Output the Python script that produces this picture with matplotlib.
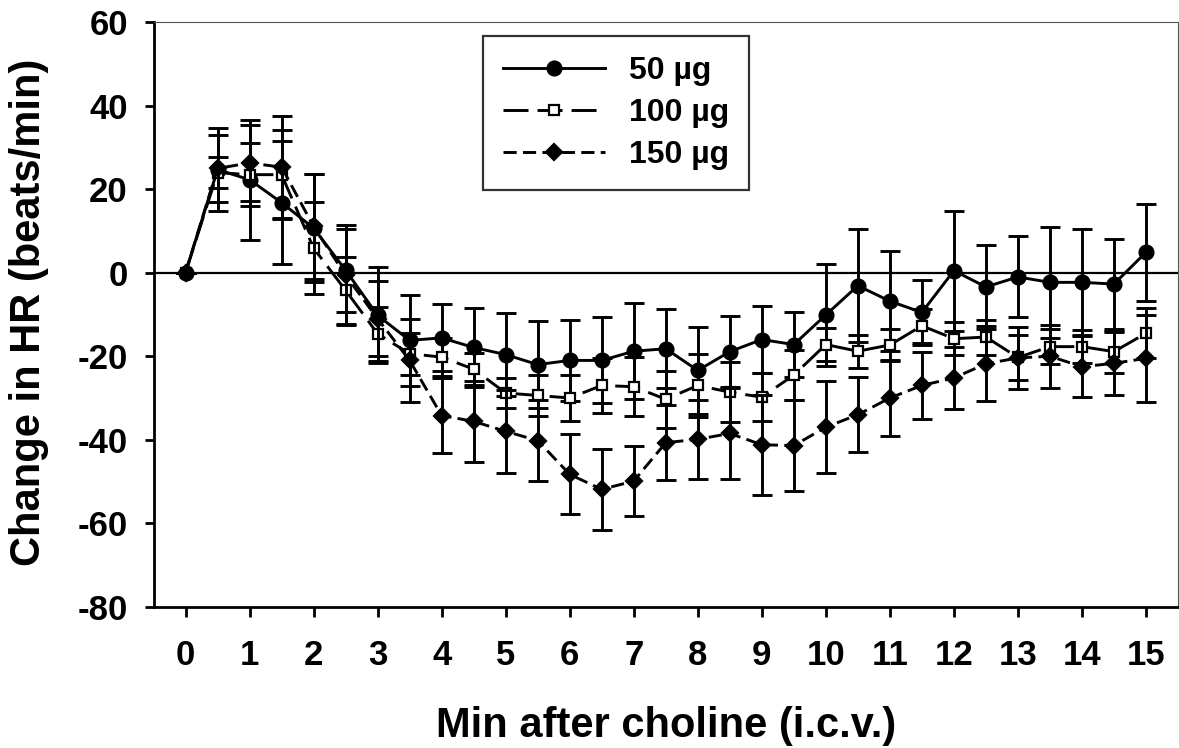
import matplotlib
matplotlib.use("Agg")
import matplotlib.pyplot as plt

plt.rcParams['font.family'] = ['Liberation Sans', 'DejaVu Sans']
plt.rcParams['font.weight'] = 'bold'
plt.rcParams['axes.unicode_minus'] = False
plt.rcParams['lines.scale_dashes'] = False

# ---- data ----
time_min = [0, 0.5, 1, 1.5, 2, 2.5, 3, 3.5, 4, 4.5, 5, 5.5, 6, 6.5, 7, 7.5,
            8, 8.5, 9, 9.5, 10, 10.5, 11, 11.5, 12, 12.5, 13, 13.5, 14, 14.5, 15]

hr_50 = [0, 24.7, 22.3, 16.8, 10.7, 0.6, -10.2, -16.2, -15.6, -17.9, -19.6,
         -22.0, -21.0, -21.0, -18.8, -18.2, -23.4, -18.9, -16.0, -17.2, -10.1,
         -3.1, -6.8, -9.5, 0.5, -3.4, -1.0, -2.3, -2.3, -2.7, 4.9]
se_50 = [0, 10.0, 14.4, 14.8, 13.0, 10.0, 11.5, 10.9, 8.0, 9.5, 10.0, 10.5,
         9.7, 10.3, 11.5, 9.5, 10.4, 8.5, 8.0, 7.7, 12.3, 13.5, 12.0, 7.8,
         14.4, 10.0, 9.7, 13.3, 12.7, 10.7, 11.6]

hr_100 = [0, 24.0, 23.5, 23.5, 5.9, -4.2, -14.6, -19.4, -20.2, -23.1, -28.8,
          -29.4, -30.0, -27.0, -27.3, -30.3, -27.0, -28.6, -29.8, -24.5, -17.2,
          -18.8, -17.3, -12.7, -15.8, -15.4, -20.3, -17.7, -17.7, -18.9, -14.5]
se_100 = [0, 3.7, 7.6, 10.6, 11.0, 8.0, 6.5, 5.0, 4.6, 3.9, 3.5, 5.0, 5.4,
          6.5, 7.0, 6.8, 7.5, 7.2, 5.8, 6.0, 4.0, 4.0, 3.8, 4.1, 4.0, 4.2,
          5.4, 4.2, 4.0, 5.0, 6.0]

hr_150 = [0, 25.0, 26.3, 25.3, 11.1, -0.6, -11.0, -21.0, -34.2, -35.6, -38.0,
          -40.2, -48.3, -51.9, -49.9, -40.7, -39.9, -38.5, -41.2, -41.4, -37.0,
          -34.0, -30.0, -27.0, -25.2, -21.8, -20.4, -20.0, -22.5, -21.7, -20.5]
se_150 = [0, 8.0, 9.0, 12.2, 12.5, 12.0, 9.0, 10.0, 9.0, 9.7, 10.0, 9.8, 9.6,
          9.7, 8.4, 9.0, 9.4, 11.0, 12.0, 11.0, 11.0, 9.0, 9.0, 8.0, 7.5, 9.0,
          7.5, 7.5, 7.3, 7.6, 10.5]

series_labels = ['50 \u00b5g', '100 \u00b5g', '150 \u00b5g']
x_ticks = list(range(0, 16))
y_ticks = [-80, -60, -40, -20, 0, 20, 40, 60]

W, H = 1179, 748
fig = plt.figure(figsize=(W / 100, H / 100), dpi=100)
L, R, T, B = 153.5, 1178, 22.3, 606.7
ax = fig.add_axes([L / W, 1 - B / H, (R - L) / W, (B - T) / H])

ax.set_xlim(-0.5, 15.5)
ax.set_ylim(-80, 60)

ax.axhline(0, color='black', lw=1.6, zorder=1)

styles = [
    dict(marker='o', ms=10, mfc='black', mec='black', dashes=None),
    dict(marker='s', ms=7.5, mfc='white', mec='black', dashes=(18, 6.5)),
    dict(marker='D', ms=8.5, mfc='black', mec='black', dashes=(9.5, 4.5)),
]
data = [(hr_50, se_50), (hr_100, se_100), (hr_150, se_150)]

handles = []
for i, ((yv, se), st, lab) in enumerate(zip(data, styles, series_labels)):
    z = 3 + i
    ax.errorbar(time_min, yv, yerr=se, fmt='none', ecolor='black',
                elinewidth=2.1, capsize=7, capthick=2.1, zorder=z)
    kw = dict(color='black', lw=2.1, marker=st['marker'], ms=st['ms'],
              mfc=st['mfc'], mec=st['mec'], mew=1.6, zorder=z + 0.5, label=lab)
    if st['dashes'] is not None:
        kw['dashes'] = st['dashes']
    ln, = ax.plot(time_min, yv, **kw)
    handles.append(ln)

# spines
for s in ['left', 'bottom']:
    ax.spines[s].set_linewidth(2.0)
    ax.spines[s].set_color('black')
for s in ['top', 'right']:
    ax.spines[s].set_linewidth(0.8)
    ax.spines[s].set_color('#555555')

ax.set_xticks(x_ticks)
ax.set_xticklabels([str(v) for v in x_ticks])
ax.set_yticks(y_ticks)
ax.set_yticklabels([str(v) for v in y_ticks])
ax.tick_params(axis='both', which='major', direction='out', width=2.0,
               labelsize=25, top=False, right=False)
ax.tick_params(axis='x', length=7.5, pad=16)
ax.tick_params(axis='y', length=6.5, pad=12)
for lbl in ax.get_xticklabels() + ax.get_yticklabels():
    lbl.set_fontweight('bold')

fig.text(666 / W, 1 - 737 / H, 'Min after choline (i.c.v.)', fontsize=30,
         fontweight='bold', ha='center', va='baseline')
fig.text(29 / W, 1 - 312 / H, 'Change in HR (beats/min)', fontsize=30,
         fontweight='bold', ha='center', va='center', rotation=90)

leg = ax.legend(handles=handles, loc='upper left',
                bbox_to_anchor=(483 / W, 1 - 36 / H), bbox_transform=fig.transFigure,
                borderaxespad=0, fontsize=23, frameon=True, fancybox=False,
                edgecolor='black', handlelength=3.2, handletextpad=0.75,
                labelspacing=0.38, borderpad=0.62, numpoints=1)
leg.get_frame().set_linewidth(1.6)
leg.set_zorder(10)
for t in leg.get_texts():
    t.set_fontweight('bold')

fig.savefig('out.png', dpi=100)
